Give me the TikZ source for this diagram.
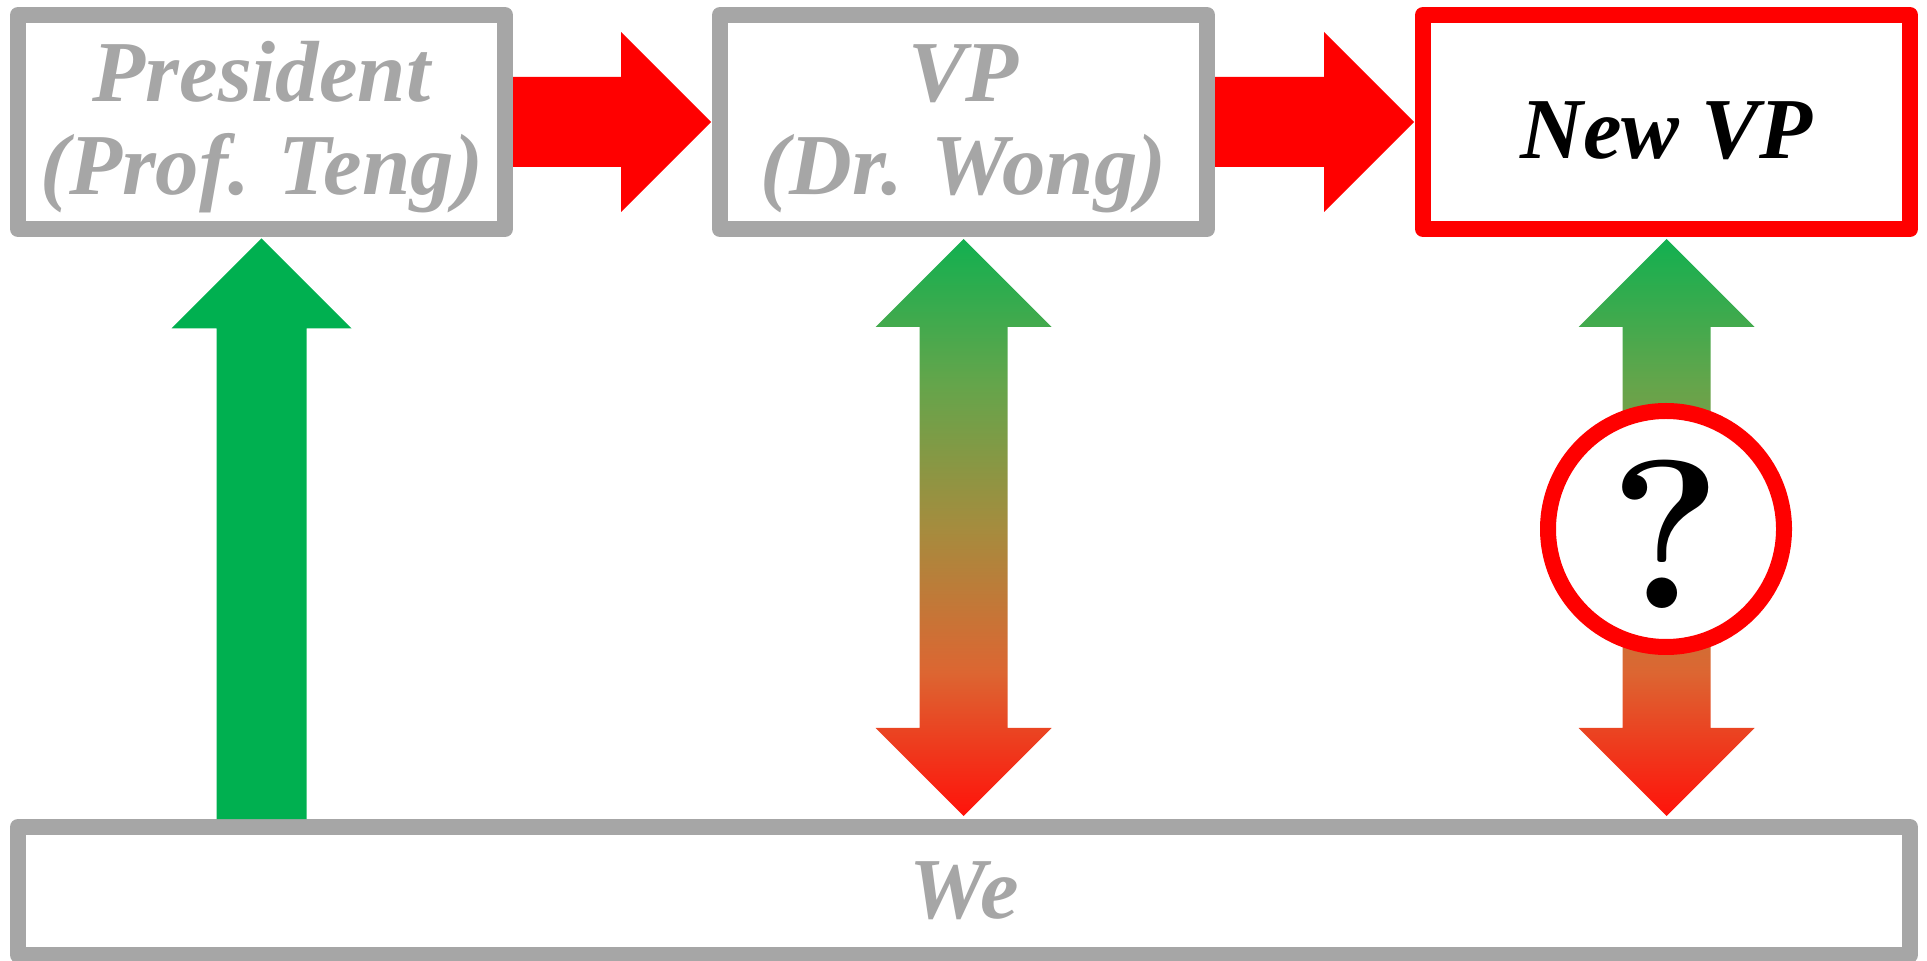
\documentclass[tikz,border=0pt]{standalone}
\usepackage{fontspec}
\newfontfamily\tnr{Liberation Serif}
\usetikzlibrary{calc}
\newcommand\topstrutx{\rule{0pt}{35pt}}
\definecolor{boxgray}{HTML}{A6A6A6}
\definecolor{pgreen}{HTML}{00B050}
\definecolor{gA}{RGB}{18,176,80}
\definecolor{gB}{RGB}{100,165,75}
\definecolor{gC}{RGB}{165,140,62}
\definecolor{gD}{RGB}{220,102,50}
\definecolor{gE}{RGB}{255,18,10}
\pgfdeclareverticalshading{gradarrow}{100bp}{color(0bp)=(gE); color(25bp)=(gE); color(37.5bp)=(gD); color(50bp)=(gC); color(62.5bp)=(gB); color(75bp)=(gA); color(100bp)=(gA)}
\begin{document}
\begin{tikzpicture}[x=0.5pt,y=-0.5pt,
  blk/.style={draw=boxgray,line width=8pt,line join=round,fill=white,
    minimum width=243.5pt,minimum height=107pt,inner sep=0pt,align=center,
    font=\tnr\bfseries\itshape\fontsize{43.4}{46.4}\selectfont,text=boxgray},
  redblock/.style={fill=red},
  greenblock/.style={fill=pgreen},
  gradblock/.style={shading=gradarrow},
  qcircle/.style={circle,draw=red,line width=8pt,fill=white,minimum size=118pt,inner sep=0pt,
    font=\bfseries\fontsize{106}{106}\selectfont}]
\useasboundingbox (0,0) rectangle (1927,961);
\node[blk] (pres) at (261.5,122) {\topstrutx President\\(Prof. Teng)};
\node[blk] (vp) at (963.5,122) {\topstrutx VP\\(Dr. Wong)};
\node[blk,draw=red,text=black] (nvp) at (1666.5,122) {\raisebox{-4.5pt}[\height][\depth]{New VP}};
\node[blk,minimum width=946pt,minimum height=64pt] (we) at (964,891) {We};
% red arrows
\fill[redblock] ($(pres.east)+(0,-45)$) -- ($(vp.west)+(-91,-45)$) -- ($(vp.west)+(-91,-90)$)
  -- ($(vp.west)+(-1,0)$) -- ($(vp.west)+(-91,90)$) -- ($(vp.west)+(-91,45)$)
  -- ($(pres.east)+(0,45)$) -- cycle;
\fill[redblock] ($(vp.east)+(0,-45)$) -- ($(nvp.west)+(-91,-45)$) -- ($(nvp.west)+(-91,-90)$)
  -- ($(nvp.west)+(-1,0)$) -- ($(nvp.west)+(-91,90)$) -- ($(nvp.west)+(-91,45)$)
  -- ($(vp.east)+(0,45)$) -- cycle;
% green arrow up
\fill[greenblock] ($(we.north -| pres.south)+(-45,0)$) -- ($(pres.south)+(-45,91.5)$)
  -- ($(pres.south)+(-90,91.5)$) -- ($(pres.south)+(0,1.5)$) -- ($(pres.south)+(90,91.5)$)
  -- ($(pres.south)+(45,91.5)$) -- ($(we.north -| pres.south)+(45,0)$) -- cycle;
% gradient double arrows
\shade[gradblock] ($(vp.south)+(0,2)$) -- ++(88,88) -- ++(-44,0) -- ($(we.north -| vp.south)+(44,-91)$)
  -- ++(44,0) -- ($(we.north -| vp.south)+(0,-3)$) -- ++(-88,-88) -- ++(44,0)
  -- ($(vp.south)+(-44,90)$) -- ++(-44,0) -- cycle;
\shade[gradblock] ($(nvp.south)+(0,2)$) -- ++(88,88) -- ++(-44,0) -- ($(we.north -| nvp.south)+(44,-91)$)
  -- ++(44,0) -- ($(we.north -| nvp.south)+(0,-3)$) -- ++(-88,-88) -- ++(44,0)
  -- ($(nvp.south)+(-44,90)$) -- ++(-44,0) -- cycle;
% question circle
\node[qcircle,text height=80pt,text depth=0pt] (q) at (1666,529) {?};
\end{tikzpicture}
\end{document}
